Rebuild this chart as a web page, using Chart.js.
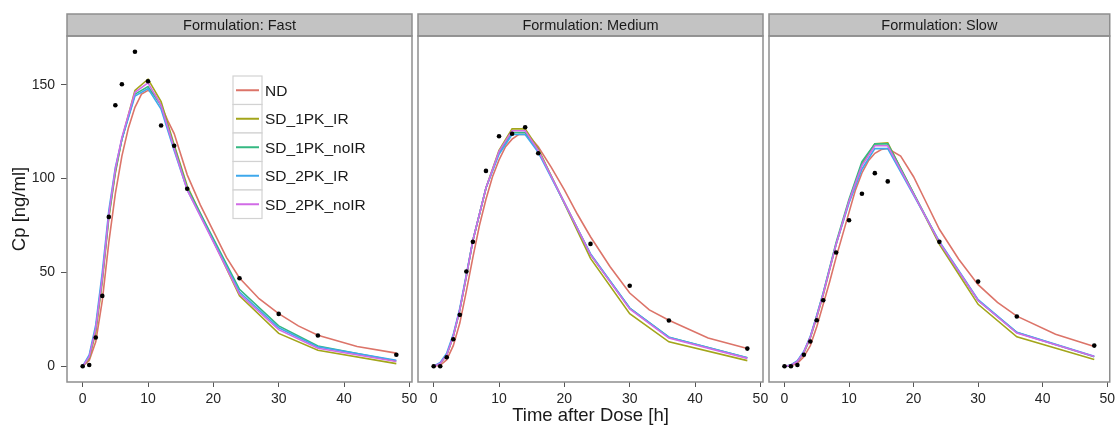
<!DOCTYPE html>
<html>
<head>
<meta charset="utf-8">
<script src="https://cdn.jsdelivr.net/npm/chart.js@4.4.1/dist/chart.umd.min.js"></script>
<style>
  html, body { margin: 0; padding: 0; background: #fff; }
  #wrap { position: relative; width: 1119px; height: 427px; }
  #wrap canvas { position: absolute; left: 0; top: 0; }
</style>
</head>
<body>
<div id="wrap">
  <canvas id="fast" width="1119" height="427"></canvas>
  <canvas id="medium" width="1119" height="427"></canvas>
  <canvas id="slow" width="1119" height="427"></canvas>
</div>
<script>
// sampling times (observed + simplified models) and the denser grid of the ND model
const sampleTimes = [0, 1, 2, 3, 4, 5, 6, 8, 10, 12, 14, 16, 24, 30, 36, 48];
const ndTimes = [0, 1, 2, 3, 4, 5, 6, 7, 8, 9, 10, 11, 12, 13, 14, 15, 16, 18, 20, 22, 24, 27, 30, 33, 36, 42, 48];

const seriesNames = ['ND', 'SD_1PK_IR', 'SD_1PK_noIR', 'SD_2PK_IR', 'SD_2PK_noIR'];
const seriesColors = ['#dc7469', '#a3a51a', '#35b882', '#3ea8ec', '#d16be6'];

const xTicks = [0, 10, 20, 30, 40, 50];
const yTicks = [0, 50, 100, 150];

// Formulation: Fast
const obsFast = [0, 0.7, 15.3, 37.5, 79.6, 139.1, 150.3, 167.6, 151.9, 128.3, 117.5, 94.6, 46.9, 27.9, 16.4, 6.1];
const ndFast = [0, 3, 13, 35, 66, 92, 112, 127, 138, 145, 147, 145, 139, 131, 124, 113, 102, 86, 72, 58, 47, 36, 28, 21.5, 16.5, 10.5, 7];
const sd1IrFast = [0, 4, 18, 45, 79, 103, 121, 147, 153, 141, 118, 96, 37.5, 17.5, 8.5, 1.4];
const sd1NoFast = [0, 5, 20, 47, 80, 104, 121, 145, 149, 139, 117, 95, 41, 21.5, 10.8, 2.8];
const sd2IrFast = [0, 6, 22, 50, 83, 106, 121, 144, 148, 137, 115, 94, 39.5, 20.5, 10.3, 3.2];
const sd2NoFast = [0, 5, 20, 47, 81, 105, 122, 146, 151, 139, 116, 94, 38.5, 19.5, 9.6, 2.5];

// Formulation: Medium
const obsMed = [0, 0, 4.8, 14.4, 27.4, 50.5, 66.3, 104.1, 122.6, 123.9, 127.4, 113.5, 65.2, 42.9, 24.4, 9.4];
const ndMed = [0, 0.5, 3.5, 11, 23, 40, 58, 75, 89, 101, 110, 117, 121, 123.5, 123.5, 121, 117, 106, 94, 81, 69, 53, 39, 30, 24.5, 15, 9.4];
const sd1IrMed = [0, 1.5, 6, 16, 30, 48, 67, 95, 115, 126.5, 126.5, 116, 57.5, 28, 13, 3];
const sd1NoMed = [0, 1.5, 6, 16, 30, 48, 67, 95, 114, 124.5, 124.5, 115, 59.5, 31, 15.5, 4.5];
const sd2IrMed = [0, 2, 7, 17, 31, 49, 67, 95, 113, 123.5, 123.5, 114, 60, 31, 15.5, 4.5];
const sd2NoMed = [0, 1.5, 6, 16, 30, 48, 67, 95, 114.5, 125.5, 125.5, 115, 59.5, 30.5, 15, 4.2];

// Formulation: Slow
const obsSlow = [0, 0, 0.7, 6.1, 13.2, 24.5, 35.2, 60.6, 77.8, 91.9, 102.9, 98.5, 66.3, 45.1, 26.5, 11.0];
const ndSlow = [0, 0.2, 1.5, 5, 11, 21, 33, 45, 58, 70, 82, 94, 103, 109.5, 113.5, 115.5, 116, 112, 101, 87, 73, 57, 43.5, 34, 26.7, 17, 10.5];
const sd1IrSlow = [0, 0.5, 2.5, 7, 15, 26, 38, 65, 88, 108, 118.5, 119, 65, 33, 15.7, 3.6];
const sd1NoSlow = [0, 0.5, 2.5, 7.5, 15.5, 27, 39, 66, 89, 109, 118.5, 118.5, 66, 35, 18, 5];
const sd2IrSlow = [0, 0.7, 3, 8, 16, 27, 39, 65, 87, 105, 116, 116, 66.5, 35.5, 18.1, 5.3];
const sd2NoSlow = [0, 0.5, 2.5, 7.5, 15.5, 26.5, 38.5, 65, 88, 107, 117.5, 117.5, 66, 35, 17.7, 5.2];

Chart.defaults.font.family = '"Liberation Sans", Arial, sans-serif';
Chart.defaults.color = '#262626';

// panel frame, grey strip header and (first panel only) the boxed legend
const facetFrame = {
  id: 'facetFrame',
  afterDraw(chart, args, opts) {
    const { ctx, chartArea: a } = chart;
    const stripTop = a.top - 22;
    ctx.save();
    ctx.fillStyle = '#c3c3c3';
    ctx.fillRect(a.left, stripTop, a.right - a.left, a.top - stripTop);
    ctx.strokeStyle = '#8e8e8e';
    ctx.lineWidth = 1.5;
    ctx.strokeRect(a.left, stripTop, a.right - a.left, a.top - stripTop);
    ctx.strokeRect(a.left, a.top, a.right - a.left, a.bottom - a.top);
    ctx.fillStyle = '#1a1a1a';
    ctx.font = '14.5px "Liberation Sans", Arial, sans-serif';
    ctx.textAlign = 'center';
    ctx.textBaseline = 'middle';
    ctx.fillText(opts.title, (a.left + a.right) / 2, (stripTop + a.top) / 2 + 1);

    if (opts.legend) {
      const x0 = a.left + 166, y0 = a.top + 40, kw = 29, kh = 28.5;
      const lines = chart.data.datasets.filter(d => d.showLine !== false);
      lines.forEach((d, i) => {
        const y = y0 + i * kh;
        ctx.fillStyle = '#fff';
        ctx.fillRect(x0, y, kw, kh);
        ctx.strokeStyle = '#d2d2d2';
        ctx.lineWidth = 1.2;
        ctx.strokeRect(x0, y, kw, kh);
        ctx.strokeStyle = d.borderColor;
        ctx.lineWidth = 2;
        ctx.beginPath();
        ctx.moveTo(x0 + 3, y + kh / 2);
        ctx.lineTo(x0 + kw - 3, y + kh / 2);
        ctx.stroke();
        ctx.fillStyle = '#1a1a1a';
        ctx.font = '15.5px "Liberation Sans", Arial, sans-serif';
        ctx.textAlign = 'left';
        ctx.fillText(d.label, x0 + kw + 3, y + kh / 2 + 1);
      });
    }
    ctx.restore();
  }
};

function makePanel(id, title, obs, models, padLeft, padRight, showY, showXTitle, showLegend) {
  const lineSets = seriesNames.map((name, k) => ({
    label: name,
    data: (k === 0 ? ndTimes : sampleTimes).map((t, i) => ({ x: t, y: models[k][i] })),
    borderColor: seriesColors[k],
    backgroundColor: seriesColors[k],
    borderWidth: 1.6,
    pointRadius: 0,
    tension: 0,
    order: seriesNames.length - k
  }));
  const obsSet = {
    label: 'Observed',
    data: sampleTimes.map((t, i) => ({ x: t, y: obs[i] })),
    showLine: false,
    pointRadius: 2.3,
    pointBackgroundColor: '#000',
    pointBorderWidth: 0,
    order: 0
  };

  return new Chart(document.getElementById(id), {
    type: 'line',
    data: { datasets: [...lineSets, obsSet] },
    plugins: [facetFrame],
    options: {
      responsive: false,
      animation: false,
      devicePixelRatio: 1,
      layout: { padding: { left: padLeft, right: padRight, top: 36, bottom: 0 } },
      plugins: {
        legend: { display: false },
        tooltip: { enabled: false },
        facetFrame: { title: title, legend: showLegend }
      },
      scales: {
        x: {
          type: 'linear',
          min: -2.4,
          max: 50.4,
          afterBuildTicks: s => { s.ticks = xTicks.map(v => ({ value: v })); },
          afterFit: s => { s.height = 45; },
          ticks: { font: { size: 14 }, padding: 4, maxRotation: 0, autoSkip: false, color: '#262626' },
          grid: { drawOnChartArea: false, tickLength: 5, color: '#555', lineWidth: 1 },
          border: { display: false },
          title: {
            display: showXTitle,
            text: 'Time after Dose [h]',
            font: { size: 18.5 },
            color: '#1a1a1a',
            padding: { top: 0, bottom: 0 }
          }
        },
        y: {
          type: 'linear',
          min: -8.4,
          max: 176,
          display: showY,
          afterBuildTicks: s => { s.ticks = yTicks.map(v => ({ value: v })); },
          afterFit: s => { if (showY) s.width = 67; },
          ticks: { font: { size: 14 }, padding: 6, color: '#262626' },
          grid: { drawOnChartArea: false, tickLength: 6, color: '#555', lineWidth: 1 },
          border: { display: false },
          title: {
            display: true,
            text: 'Cp [ng/ml]',
            font: { size: 18.5 },
            color: '#1a1a1a',
            padding: { top: 9, bottom: 0 }
          }
        }
      }
    }
  });
}

makePanel('fast', 'Formulation: Fast', obsFast,
  [ndFast, sd1IrFast, sd1NoFast, sd2IrFast, sd2NoFast], 0, 707, true, false, true);
makePanel('medium', 'Formulation: Medium', obsMed,
  [ndMed, sd1IrMed, sd1NoMed, sd2IrMed, sd2NoMed], 418, 356, false, true, false);
makePanel('slow', 'Formulation: Slow', obsSlow,
  [ndSlow, sd1IrSlow, sd1NoSlow, sd2IrSlow, sd2NoSlow], 769, 5, false, false, false);
</script>
</body>
</html>
